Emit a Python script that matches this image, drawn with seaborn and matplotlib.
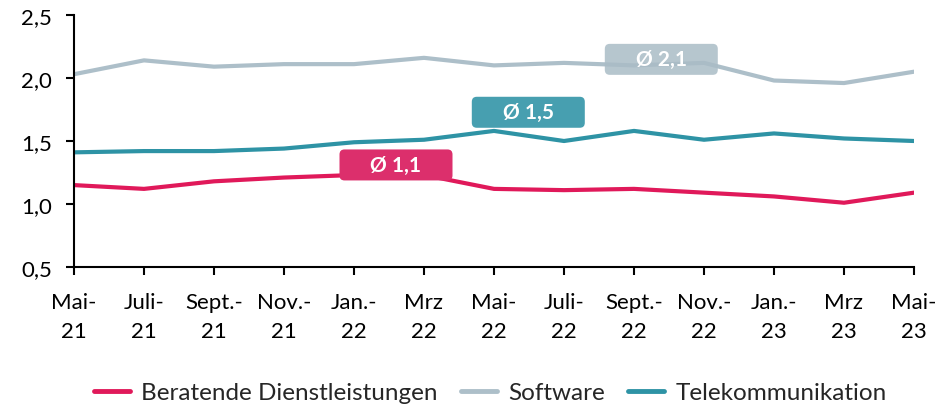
import matplotlib
matplotlib.use("Agg")
import matplotlib.pyplot as plt
import matplotlib.transforms as mtransforms
from matplotlib.patches import FancyBboxPatch
import seaborn as sns
import pandas as pd

# Monthly values per sector
months = ["Mai-\n21", "Juli-\n21", "Sept.-\n21", "Nov.-\n21", "Jan.-\n22", "Mrz\n22",
          "Mai-\n22", "Juli-\n22", "Sept.-\n22", "Nov.-\n22", "Jan.-\n23", "Mrz\n23", "Mai-\n23"]
beratende = [1.15, 1.12, 1.18, 1.21, 1.23, 1.23, 1.12, 1.11, 1.12, 1.09, 1.06, 1.01, 1.09]
software = [2.03, 2.14, 2.09, 2.11, 2.11, 2.16, 2.10, 2.12, 2.10, 2.12, 1.98, 1.96, 2.05]
telekom = [1.41, 1.42, 1.42, 1.44, 1.49, 1.51, 1.58, 1.50, 1.58, 1.51, 1.56, 1.52, 1.50]

series_names = ["Beratende Dienstleistungen", "Software", "Telekommunikation"]
averages = ["Ø 1,1", "Ø 2,1", "Ø 1,5"]
y_ticks = [0.5, 1.0, 1.5, 2.0, 2.5]
y_tick_labels = ["0,5", "1,0", "1,5", "2,0", "2,5"]

colors = {"Beratende Dienstleistungen": "#e0195a",
          "Software": "#adbfc9",
          "Telekommunikation": "#2e93a5"}
box_colors = {"Beratende Dienstleistungen": ("#dc2f6c", 1.0),
              "Software": ("#aabcc6", 0.85),
              "Telekommunikation": ("#479fb0", 1.0)}

frames = []
for name, vals in zip(series_names, [beratende, software, telekom]):
    frames.append(pd.DataFrame({"idx": range(len(months)), "value": vals, "series": name}))
df = pd.concat(frames, ignore_index=True)

sns.set_theme(style="ticks")
plt.rcParams["font.family"] = ["Lato", "DejaVu Sans"]

fig = plt.figure(figsize=(9.43, 4.06), dpi=100)
ax = fig.add_axes([74 / 943, 1 - 268 / 406, 840 / 943, 252 / 406])

sns.lineplot(data=df, x="idx", y="value", hue="series", palette=colors,
             linewidth=3, ax=ax, legend=True)

ax.set_xlim(0, len(months) - 1)
ax.set_ylim(0.5, 2.5)
ax.set_xticks(range(len(months)))
ax.set_xticklabels(months, fontsize=16, linespacing=1.55)
ax.set_yticks(y_ticks)
ax.set_yticklabels(y_tick_labels, fontsize=16)
ax.set_xlabel("")
ax.set_ylabel("")
for side in ["top", "right"]:
    ax.spines[side].set_visible(False)
for side in ["left", "bottom"]:
    ax.spines[side].set_color("black")
    ax.spines[side].set_linewidth(1.5)
ax.tick_params(axis="both", colors="black", width=1.5, length=6)
ax.tick_params(axis="x", pad=12)
ax.tick_params(axis="y", pad=10)
ax.grid(False)

# Average labels as rounded boxes
label_pos = {"Beratende Dienstleistungen": (4.6, 1.31),
             "Software": (8.39, 2.148),
             "Telekommunikation": (6.49, 1.728)}
w_in, h_in = 1.13, 0.31
for name, avg in zip(series_names, averages):
    x, y = label_pos[name]
    trans = fig.dpi_scale_trans + mtransforms.ScaledTranslation(x, y, ax.transData)
    fc, alpha = box_colors[name]
    box = FancyBboxPatch((-w_in / 2, -h_in / 2), w_in, h_in,
                         boxstyle="round,pad=0,rounding_size=0.05",
                         transform=trans, facecolor=fc, edgecolor="none",
                         alpha=alpha, zorder=5, clip_on=False)
    ax.add_patch(box)
    ax.text(x, y, avg, ha="center", va="center", color="white",
            fontsize=15, fontweight="bold", zorder=6)

leg = ax.legend(loc="upper center", bbox_to_anchor=(0.5 - 4 / 840, -0.37), ncol=3,
                frameon=False, fontsize=17.5, handlelength=1.5, columnspacing=0.95,
                handletextpad=0.45)
for line in leg.get_lines():
    line.set_linewidth(3.5)

fig.savefig("out.png", dpi=100)
